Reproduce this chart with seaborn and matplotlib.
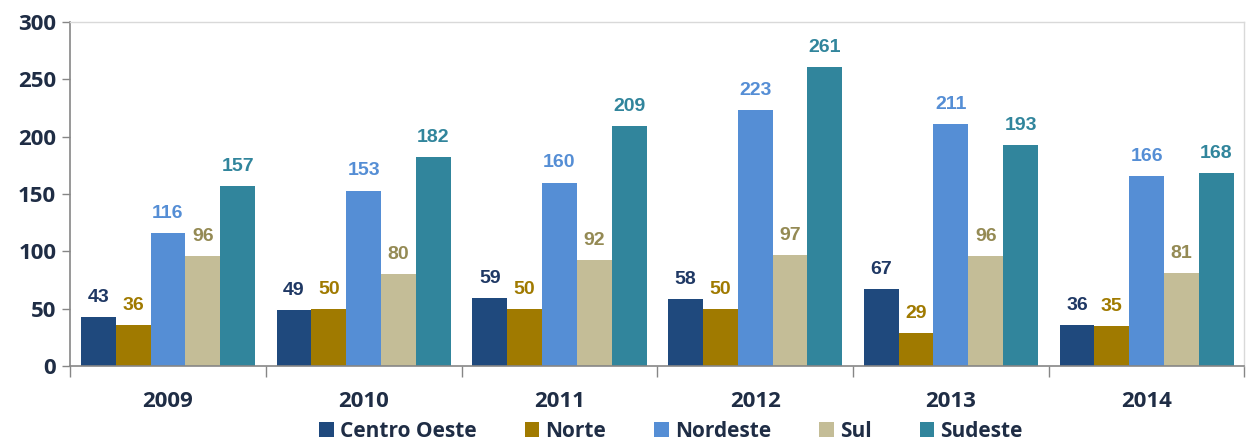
import pandas as pd
import numpy as np
import matplotlib.pyplot as plt
import seaborn as sns
from matplotlib.ticker import FixedLocator

# --- data ---
years = ["2009", "2010", "2011", "2012", "2013", "2014"]
regions = ["Centro Oeste", "Norte", "Nordeste", "Sul", "Sudeste"]
centro_oeste = [43, 49, 59, 58, 67, 36]
norte = [36, 50, 50, 50, 29, 35]
nordeste = [116, 153, 160, 223, 211, 166]
sul = [96, 80, 92, 97, 96, 81]
sudeste = [157, 182, 209, 261, 193, 168]

bar_colors = ["#1F497D", "#A07A00", "#558ED5", "#C4BD97", "#31859C"]
label_colors = ["#1F3864", "#A07A00", "#558ED5", "#948A54", "#31859C"]

# long-form table for seaborn
series = [centro_oeste, norte, nordeste, sul, sudeste]
rows = []
for reg, vals in zip(regions, series):
    for yr, v in zip(years, vals):
        rows.append({"Ano": yr, "Regiao": reg, "Valor": v})
df = pd.DataFrame(rows)

sns.set_theme(style="white")
plt.rcParams['font.family'] = ['Open Sans', 'DejaVu Sans']

fig = plt.figure(figsize=(12.52, 4.43), dpi=100)
ax = fig.add_axes([0.056, 0.174, 0.938, 0.776])

sns.barplot(data=df, x="Ano", y="Valor", hue="Regiao", order=years,
            hue_order=regions, palette=bar_colors, width=0.89, gap=0,
            saturation=1, linewidth=0, ax=ax)

# value labels above bars
for cont, col in zip(ax.containers, label_colors):
    ax.bar_label(cont, padding=8, color=col, fontsize=14, fontweight="bold",
                 family="Liberation Sans")

ax.set_ylim(0, 300)
ax.set_xlim(-0.5, len(years) - 0.5)
ax.set_yticks(np.arange(0, 301, 50))
ax.set_xlabel("")
ax.set_ylabel("")

ax.tick_params(axis="y", which="major", left=True, length=6, width=1,
               color="#868686", labelsize=16, labelcolor="#1F2D45", pad=4)
ax.tick_params(axis="x", which="major", bottom=False, labelsize=16,
               labelcolor="#1F2D45", pad=12)
ax.xaxis.set_minor_locator(FixedLocator(np.arange(-0.5, len(years), 1.0)))
ax.tick_params(axis="x", which="minor", bottom=True, length=8, width=1,
               color="#868686")
for lab in ax.get_xticklabels() + ax.get_yticklabels():
    lab.set_fontweight("bold")

for side in ["left", "bottom"]:
    ax.spines[side].set_color("#868686")
    ax.spines[side].set_linewidth(1.2)
for side in ["top", "right"]:
    ax.spines[side].set_color("#D9D9D9")
    ax.spines[side].set_linewidth(1)

leg = ax.legend(loc="center", bbox_to_anchor=(0.536, 0.027),
                bbox_transform=fig.transFigure, ncol=5, frameon=False,
                handlelength=0.7, handleheight=0.7, handletextpad=0.3,
                columnspacing=2.3, borderpad=0,
                prop={"size": 15, "weight": "bold"})
for t in leg.get_texts():
    t.set_color("#1F2D45")

fig.savefig("out.png", dpi=100, facecolor="white")
